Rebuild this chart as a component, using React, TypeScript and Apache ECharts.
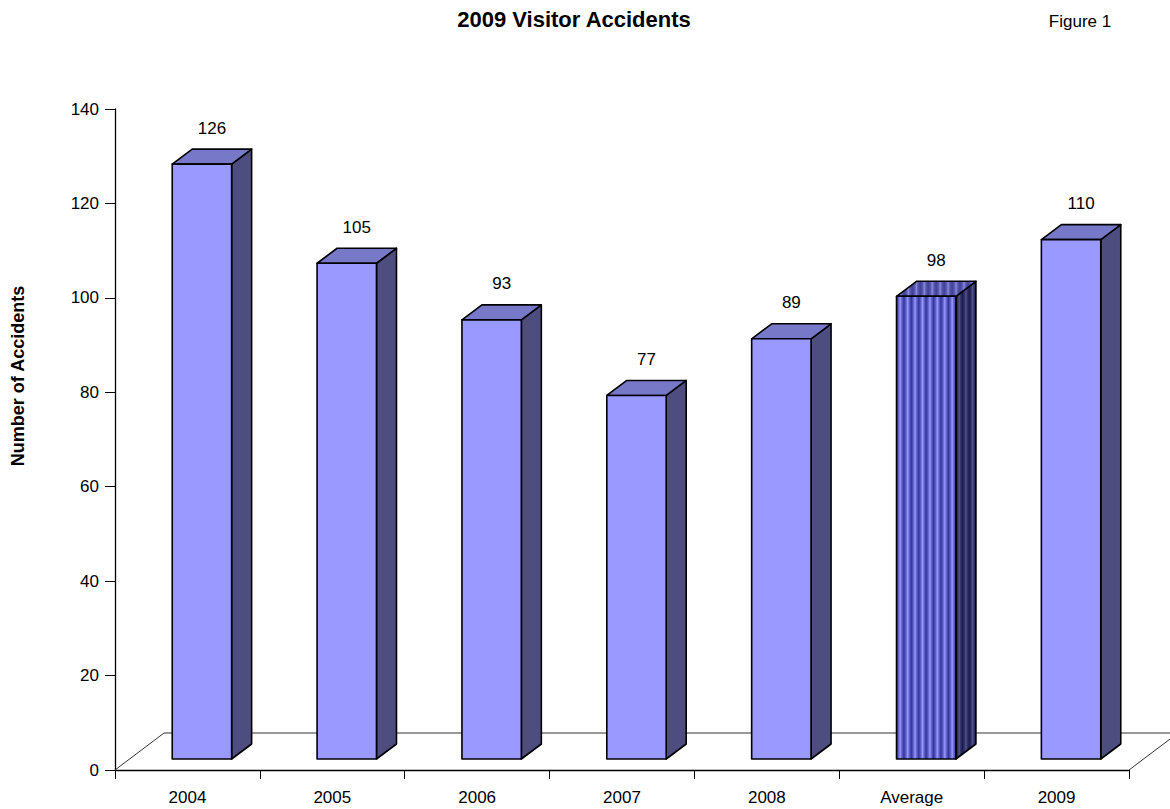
import React, { useEffect, useRef } from "react";
import * as echarts from "echarts";

const categories = ["2004", "2005", "2006", "2007", "2008", "Average", "2009"];
const accidents = [126, 105, 93, 77, 89, 98, 110];
const patternedCategories = ["Average"];
const yMin = 0;
const yMax = 140;
const yStep = 20;
const titleText = "2009 Visitor Accidents";
const figureText = "Figure 1";
const yAxisTitle = "Number of Accidents";

const FONT = '"Liberation Sans", Arial, Helvetica, sans-serif';

function stripeGradient(n: number, dark: string, mid: string, light: string) {
  const stops: { offset: number; color: string }[] = [];
  for (let i = 0; i < n; i++) {
    const a = i / n;
    const p = 1 / n;
    stops.push({ offset: a, color: dark });
    stops.push({ offset: a + p * 0.3, color: mid });
    stops.push({ offset: a + p * 0.5, color: light });
    stops.push({ offset: a + p * 0.7, color: mid });
    stops.push({ offset: Math.min(1, a + p * 0.999), color: dark });
  }
  return new echarts.graphic.LinearGradient(0, 0, 1, 0, stops);
}

export default function App() {
  const ref = useRef<HTMLDivElement>(null);

  useEffect(() => {
    if (!ref.current) return;
    const chart = echarts.init(ref.current, null, { renderer: "svg" });

    const FRONT = [14.5, -11];
    const DEPTH = [20, -15];
    const FLOOR = [49, -37];

    const floorRender = (params: any, api: any) => {
      const cs = params.coordSys;
      const x0 = cs.x;
      const x1 = cs.x + cs.width;
      const yb = cs.y + cs.height;
      return {
        type: "polyline",
        shape: {
          points: [
            [x0, yb],
            [x0 + FLOOR[0], yb + FLOOR[1]],
            [x1 + FLOOR[0], yb + FLOOR[1]],
            [x1, yb],
          ],
        },
        style: { stroke: "#333333", lineWidth: 1, fill: "none" },
        silent: true,
      };
    };

    const barRender = (params: any, api: any) => {
      const idx = api.value(0);
      const val = api.value(1);
      const base = api.coord([idx, 0]);
      const top = api.coord([idx, val]);
      const bw = api.size([1, 0])[0] * 0.41;
      const x0 = base[0] - bw / 2 + FRONT[0];
      const x1 = x0 + bw;
      const yb = base[1] + FRONT[1];
      const yt = top[1] + FRONT[1];
      const dx = DEPTH[0];
      const dy = DEPTH[1];
      const striped = patternedCategories.indexOf(categories[idx]) >= 0;
      const frontFill = striped
        ? stripeGradient(8, "#34349c", "#6666d0", "#9999ff")
        : "#9999ff";
      const sideFill = striped
        ? stripeGradient(3, "#1c1c50", "#33336a", "#55558a")
        : "#4d4d80";
      const topFill = striped
        ? stripeGradient(10, "#40409a", "#5a5ab0", "#8a8ad8")
        : "#7878c8";
      const edge = { stroke: "#000000", lineWidth: 1.6, lineJoin: "round" };
      return {
        type: "group",
        children: [
          {
            type: "polygon",
            shape: { points: [[x1, yt], [x1 + dx, yt + dy], [x1 + dx, yb + dy], [x1, yb]] },
            style: { fill: sideFill, ...edge },
          },
          {
            type: "polygon",
            shape: { points: [[x0, yt], [x0 + dx, yt + dy], [x1 + dx, yt + dy], [x1, yt]] },
            style: { fill: topFill, ...edge },
          },
          {
            type: "rect",
            shape: { x: x0, y: yt, width: bw, height: yb - yt },
            style: { fill: frontFill, ...edge },
          },
          {
            type: "text",
            style: {
              x: x0 + bw / 2 + 10,
              y: yt - 36,
              text: String(val),
              fill: "#000000",
              fontSize: 17,
              fontFamily: FONT,
              align: "center",
              verticalAlign: "middle",
            },
          },
        ],
      };
    };

    chart.setOption({
      animation: false,
      backgroundColor: "#ffffff",
      grid: { left: 115, right: 41, top: 109, bottom: 39, containLabel: false },
      xAxis: {
        type: "category",
        data: categories,
        boundaryGap: true,
        axisLine: { show: true, lineStyle: { color: "#000000", width: 1.3 } },
        axisTick: { show: true, length: 9, lineStyle: { color: "#000000", width: 1 } },
        axisLabel: { color: "#000000", fontSize: 17, fontFamily: FONT, margin: 19 },
        splitLine: { show: false },
      },
      yAxis: {
        type: "value",
        min: yMin,
        max: yMax,
        interval: yStep,
        axisLine: { show: true, lineStyle: { color: "#000000", width: 1.3 } },
        axisTick: { show: true, length: 10, lineStyle: { color: "#000000", width: 1 } },
        axisLabel: { color: "#000000", fontSize: 17, fontFamily: FONT, margin: 16 },
        splitLine: { show: false },
      },
      graphic: [
        {
          type: "text",
          x: 574,
          y: 19,
          style: {
            text: titleText,
            fill: "#000000",
            fontSize: 22,
            fontWeight: "bold",
            fontFamily: FONT,
            align: "center",
            verticalAlign: "middle",
          },
        },
        {
          type: "text",
          x: 1080,
          y: 21,
          style: {
            text: figureText,
            fill: "#000000",
            fontSize: 17,
            fontFamily: FONT,
            align: "center",
            verticalAlign: "middle",
          },
        },
        {
          type: "text",
          x: 18,
          y: 376,
          rotation: Math.PI / 2,
          style: {
            text: yAxisTitle,
            fill: "#000000",
            fontSize: 18,
            fontWeight: "bold",
            fontFamily: FONT,
            align: "center",
            verticalAlign: "middle",
          },
        },
      ],
      series: [
        {
          type: "custom",
          renderItem: floorRender,
          data: [[0, 0]],
          encode: { x: 0, y: 1 },
          silent: true,
          z: 1,
        },
        {
          type: "custom",
          renderItem: barRender,
          data: accidents.map((v, i) => [i, v]),
          encode: { x: 0, y: 1 },
          z: 3,
        },
      ],
    });

    return () => chart.dispose();
  }, []);

  return (
    <div
      ref={ref}
      style={{ position: "fixed", left: 0, top: 0, width: 1170, height: 809, background: "#fff" }}
    />
  );
}
